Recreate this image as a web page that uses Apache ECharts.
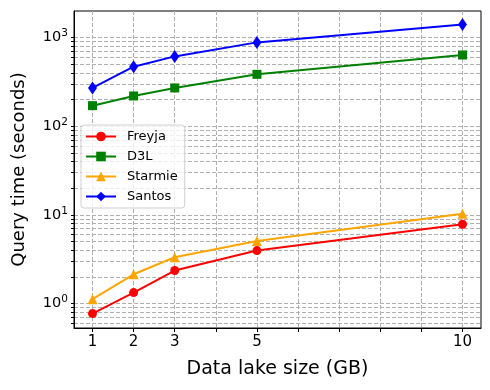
<!DOCTYPE html>
<html>
<head>
    <meta charset="utf-8">
    <title>Query time vs data lake size</title>
    <script src="https://cdn.jsdelivr.net/npm/echarts@6/dist/echarts.min.js"></script>
</head>
<body style="margin:0">
    <div id="main" style="width: 490px; height: 390px;"></div>

    <script>
        // data lake size (GB)
        var sizes = [1, 2, 3, 5, 10];
        // query time in seconds
        var freyja = [0.77, 1.33, 2.36, 3.96, 7.84];
        var d3l = [171, 220, 271, 386, 638];
        var starmie = [1.12, 2.14, 3.33, 5.08, 10.3];
        var santos = [271, 471, 615, 885, 1412];

        var xTicks = [1, 2, 3, 4, 5, 6, 7, 8, 9, 10];
        var xLabels = [1, 2, 3, 5, 10];
        var yMajor = [1, 10, 100, 1000];
        var yGrid = [0.6, 0.7, 0.8, 0.9, 1, 2, 3, 4, 5, 6, 7, 8, 9, 10,
            20, 30, 40, 50, 60, 70, 80, 90, 100,
            200, 300, 400, 500, 600, 700, 800, 900, 1000];

        var myChart = echarts.init(document.getElementById('main'));
        var font = 'DejaVu Sans';

        function pairs(ys) {
            return sizes.map(function (x, i) { return [x, ys[i]]; });
        }

        function makeSeries(name, ys, color, symbol, size) {
            return {
                name: name,
                type: 'line',
                data: pairs(ys),
                symbol: symbol,
                symbolSize: size,
                showSymbol: true,
                color: color,
                lineStyle: { width: 2, color: color },
                itemStyle: { color: color },
                emphasis: { disabled: true }
            };
        }

        var option = {
            animation: false,
            textStyle: { fontFamily: font },
            grid: {
                left: 74, right: 9, top: 11, bottom: 62,
                outerBoundsMode: 'none',
                show: true, borderColor: '#000', borderWidth: 1
            },
            legend: {
                left: 81, top: 125,
                orient: 'vertical',
                itemWidth: 30, itemHeight: 12, itemGap: 7,
                padding: [5, 7, 5, 4],
                borderColor: '#d0d0d0', borderWidth: 1, borderRadius: 3,
                backgroundColor: 'rgba(255,255,255,0.8)',
                formatter: '{n|{name}}',
                textStyle: {
                    fontSize: 13, color: '#000', fontFamily: font,
                    rich: { n: { fontSize: 13, color: '#000', fontFamily: font, padding: [0, 0, 0, 6] } }
                },
                data: ['Freyja', 'D3L', 'Starmie', 'Santos']
            },
            xAxis: {
                type: 'value',
                min: 0.55, max: 10.45,
                name: 'Data lake size (GB)',
                nameLocation: 'middle',
                nameGap: 32,
                nameTextStyle: { fontSize: 19, color: '#000', fontFamily: font },
                axisLine: { show: true, lineStyle: { color: '#000' } },
                axisTick: { show: true, inside: false, length: 4, customValues: xTicks, lineStyle: { color: '#000' } },
                axisLabel: { customValues: xLabels, fontSize: 15, color: '#000', margin: 7, fontFamily: font },
                splitLine: { show: true, lineStyle: { color: '#b0b0b0', type: [4, 2], width: 1 } }
            },
            yAxis: {
                type: 'log',
                logBase: 10,
                min: 0.53, max: 2000,
                name: 'Query time (seconds)',
                nameLocation: 'middle',
                nameGap: 46,
                nameTextStyle: { fontSize: 18, color: '#000', fontFamily: font },
                axisLine: { show: true, lineStyle: { color: '#000' } },
                axisTick: { show: true, length: 3, customValues: yGrid, lineStyle: { color: '#000' } },
                axisLabel: {
                    customValues: yMajor,
                    margin: 6,
                    formatter: function (v) {
                        var e = Math.round(Math.log10(v));
                        return '{b|10}{s|' + e + '}';
                    },
                    rich: {
                        b: { fontSize: 14.5, color: '#000', fontFamily: font },
                        s: { fontSize: 10.5, color: '#000', fontFamily: font, verticalAlign: 'bottom', padding: [0, 0, 8, 0] }
                    }
                },
                splitLine: { show: true, lineStyle: { color: '#b0b0b0', type: [4, 2], width: 1 } }
            },
            series: [
                makeSeries('Freyja', freyja, '#ff0000', 'circle', 9),
                makeSeries('D3L', d3l, '#008000', 'rect', 9),
                makeSeries('Starmie', starmie, '#ffa500', 'triangle', 10),
                makeSeries('Santos', santos, '#0000ff', 'diamond', [9, 13])
            ]
        };

        myChart.setOption(option);
    </script>
</body>
</html>
